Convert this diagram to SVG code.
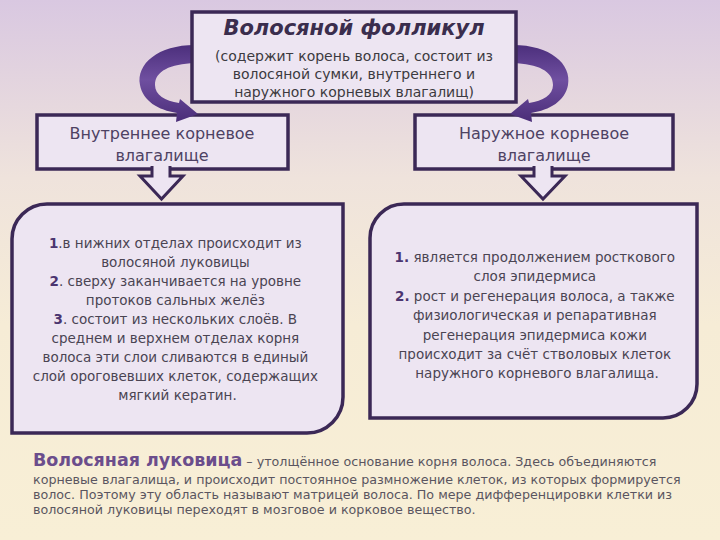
<svg xmlns="http://www.w3.org/2000/svg" width="720" height="540" viewBox="0 0 720 540">
<defs>
<linearGradient id="bg" x1="0" y1="0" x2="0" y2="1">
<stop offset="0" stop-color="#d9c8e1"/>
<stop offset="0.33" stop-color="#efe3dc"/>
<stop offset="0.6" stop-color="#f6ecd6"/>
<stop offset="1" stop-color="#f8efd6"/>
</linearGradient>
<linearGradient id="arr" x1="0" y1="0" x2="0" y2="1">
<stop offset="0" stop-color="#4c2f7c"/>
<stop offset="0.45" stop-color="#6f4fa0"/>
<stop offset="1" stop-color="#4a2d78"/>
</linearGradient>
<path id="curve" d="M195,45 C158,45 136,64 140,85 C143,101 158,110 177,113 L176,122 L198,114 L180,99 L179,103 C165,101 155,95 155,85 C155,71 170,64 195,63 Z"/>
</defs>
<style>
.box{fill:#ede5f2;stroke:#3b2856;stroke-width:3.5}
.down{fill:#ede5f2;stroke:#3b2856;stroke-width:3;stroke-linejoin:miter}
.t{font-family:"DejaVu Sans","Liberation Sans",sans-serif;text-anchor:middle}
.title{font-size:21px;font-weight:bold;font-style:italic;fill:#3a2d4d}
.sub{font-size:14px;fill:#3c3a40}
.lbl{font-size:16px;fill:#4e4263}
.body{font-size:13.5px;fill:#4a4452}
.n{font-weight:bold;fill:#4b3570}
.para{font-family:"DejaVu Sans","Liberation Sans",sans-serif;font-size:12.7px;fill:#5a5560}
.head{font-size:17.5px;font-weight:bold;fill:#6b4d8c}
</style>
<rect width="720" height="540" fill="url(#bg)"/>

<g id="inner-sheath">
<rect class="box" x="37" y="115" width="251" height="54"/>
<text class="t lbl" x="162" y="139">Внутреннее корневое</text>
<text class="t lbl" x="162" y="161">влагалище</text>
</g>

<g id="outer-sheath">
<rect class="box" x="415" y="115" width="258" height="54"/>
<text class="t lbl" x="544" y="139">Наружное корневое</text>
<text class="t lbl" x="544" y="161">влагалище</text>
</g>

<g id="inner-details">
<path class="box" d="M47,204 L343,204 L343,397 A36,36 0 0 1 307,433 L12,433 L12,239 A35,35 0 0 1 47,204 Z"/>
<text class="t body">
<tspan x="177.5" y="248"><tspan class="n">1</tspan>.в нижних отделах происходит из</tspan>
<tspan x="177.5" y="267">волосяной луковицы</tspan>
<tspan x="177.5" y="286"><tspan class="n">2</tspan>. сверху заканчивается на уровне</tspan>
<tspan x="177.5" y="305">протоков сальных желёз</tspan>
<tspan x="177.5" y="324"><tspan class="n">3</tspan>. состоит из нескольких слоёв. В</tspan>
<tspan x="177.5" y="343">среднем и верхнем отделах корня</tspan>
<tspan x="177.5" y="362">волоса эти слои сливаются в единый</tspan>
<tspan x="177.5" y="381">слой ороговевших клеток, содержащих</tspan>
<tspan x="177.5" y="400">мягкий кератин.</tspan>
</text>
</g>

<g id="outer-details">
<path class="box" d="M404,204 L697,204 L697,384 A34,34 0 0 1 663,418 L370,418 L370,238 A34,34 0 0 1 404,204 Z"/>
<text class="t body">
<tspan x="537" y="262"><tspan class="n">1.</tspan> является продолжением росткового</tspan>
<tspan x="537" y="281">слоя эпидермиса</tspan>
<tspan x="537" y="301"><tspan class="n">2.</tspan> рост и регенерация волоса, а также</tspan>
<tspan x="537" y="320">физиологическая и репаративная</tspan>
<tspan x="537" y="340">регенерация эпидермиса кожи</tspan>
<tspan x="537" y="359">происходит за счёт стволовых клеток</tspan>
<tspan x="537" y="378">наружного корневого влагалища.</tspan>
</text>
</g>

<g id="connectors">
<use href="#curve" fill="url(#arr)"/>
<use href="#curve" fill="url(#arr)" transform="translate(708,0) scale(-1,1)"/>
<path class="down" d="M152,166 L152,176 L140,176 L161.5,199 L183,176 L170,176 L170,166"/>
<path class="down" d="M534,166 L534,176 L521,176 L543,199 L565,176 L552,176 L552,166"/>
</g>

<g id="follicle">
<rect class="box" x="192" y="12" width="324" height="90"/>
<text class="t title" x="354" y="35">Волосяной фолликул</text>
<text class="t sub" x="354" y="61">(содержит корень волоса, состоит из</text>
<text class="t sub" x="354" y="79">волосяной сумки, внутреннего и</text>
<text class="t sub" x="354" y="97">наружного корневых влагалищ)</text>
</g>

<g id="bulb-text">
<text class="para" x="33" y="466"><tspan class="head">Волосяная луковица</tspan> – утолщённое основание корня волоса. Здесь объединяются</text>
<text class="para" x="33" y="484">корневые влагалища, и происходит постоянное размножение клеток, из которых формируется</text>
<text class="para" x="33" y="499">волос. Поэтому эту область называют матрицей волоса. По мере дифференцировки клетки из</text>
<text class="para" x="33" y="514">волосяной луковицы переходят в мозговое и корковое вещество.</text>
</g>
</svg>
